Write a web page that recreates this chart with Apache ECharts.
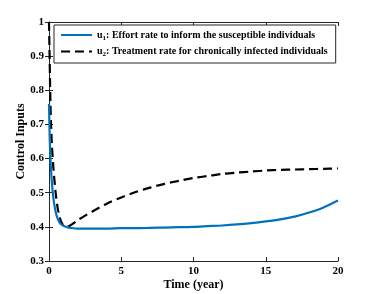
<!DOCTYPE html>
<html><head><meta charset="utf-8">
<script src="https://cdn.jsdelivr.net/npm/echarts@6/dist/echarts.min.js"></script>
<style>html,body{margin:0;padding:0;background:#fff}#c{width:374px;height:294px}</style>
</head><body><div id="c"></div>
<script>
const u1Time = [0, 0.05, 0.1, 0.2, 0.3, 0.4, 0.5, 0.6, 0.7, 0.8, 1.0, 1.25, 1.5, 2, 3, 4, 5, 6, 7, 8, 9, 10, 11, 12, 13, 14, 15, 16, 17, 18, 19, 20];
const u1Values = [0.76, 0.66, 0.6, 0.53, 0.485, 0.457, 0.437, 0.424, 0.415, 0.409, 0.403, 0.399, 0.397, 0.395, 0.395, 0.395, 0.396, 0.396, 0.397, 0.398, 0.399, 0.400, 0.402, 0.404, 0.407, 0.411, 0.416, 0.422, 0.430, 0.442, 0.457, 0.477];
const u2Time = [0, 0.05, 0.1, 0.15, 0.2, 0.3, 0.4, 0.5, 0.6, 0.7, 0.8, 0.9, 1.0, 1.2, 1.5, 2, 2.5, 3, 4, 5, 6, 7, 8, 9, 10, 11, 12, 13, 14, 15, 16, 17, 18, 19, 20];
const u2Values = [1.0, 0.88, 0.76, 0.69, 0.64, 0.575, 0.525, 0.485, 0.455, 0.435, 0.42, 0.41, 0.403, 0.399, 0.405, 0.42, 0.433, 0.445, 0.468, 0.486, 0.502, 0.515, 0.526, 0.535, 0.543, 0.549, 0.555, 0.559, 0.562, 0.565, 0.567, 0.568, 0.569, 0.570, 0.571];
const seriesNames = ['u1', 'u2'];
const legendTexts = {
  u1: ['u', '1', ': Effort rate to inform the susceptible individuals'],
  u2: ['u', '2', ': Treatment rate for chronically infected individuals']
};
const xTitle = 'Time (year)';
const yTitle = 'Control Inputs';

const font = 'Liberation Serif';
const axisColor = '#262626';
const chart = echarts.init(document.getElementById('c'));
const baseAxis = {
  axisLine: {show: true, lineStyle: {color: axisColor, width: 1}},
  axisTick: {show: true, inside: true, length: 4, lineStyle: {color: axisColor}},
  splitLine: {show: false}
};
chart.setOption({
  animation: false,
  grid: {left: 49, right: 36, top: 22, bottom: 33, containLabel: false, outerBoundsMode: 'none'},
  legend: {
    orient: 'vertical', left: 54, top: 25,
    backgroundColor: '#fff', borderColor: axisColor, borderWidth: 1,
    padding: [5, 8, 5, 6], itemGap: 5, itemWidth: 31, itemHeight: 12,
    itemStyle: {opacity: 0},
    data: seriesNames,
    formatter: n => '{b|' + legendTexts[n][0] + '}{s|' + legendTexts[n][1] + '}{b|' + legendTexts[n][2] + '}',
    textStyle: {
      fontFamily: font, fontWeight: 'bold', fontSize: 10, color: '#000',
      rich: {
        b: {fontFamily: font, fontWeight: 'bold', fontSize: 10, color: '#000'},
        s: {fontFamily: font, fontWeight: 'bold', fontSize: 7, color: '#000', padding: [6, 0, 0, 0]}
      }
    }
  },
  xAxis: [
    Object.assign({}, baseAxis, {
      type: 'value', min: 0, max: 20, interval: 5, position: 'bottom',
      name: xTitle, nameLocation: 'middle', nameGap: 18, nameMoveOverlap: false,
      nameTextStyle: {fontFamily: font, fontWeight: 'bold', fontSize: 12, color: '#000'},
      axisLabel: {fontFamily: font, fontWeight: 'bold', fontSize: 11, color: '#000', margin: 5}
    }),
    Object.assign({}, baseAxis, {
      type: 'value', min: 0, max: 20, interval: 5, position: 'top', axisLabel: {show: false}
    })
  ],
  yAxis: [
    Object.assign({}, baseAxis, {
      type: 'value', min: 0.3, max: 1, interval: 0.1, position: 'left',
      name: yTitle, nameLocation: 'middle', nameGap: 22, nameRotate: 90, nameMoveOverlap: false,
      nameTextStyle: {fontFamily: font, fontWeight: 'bold', fontSize: 12, color: '#000'},
      axisLabel: {fontFamily: font, fontWeight: 'bold', fontSize: 11, color: '#000', margin: 5,
        formatter: v => (Math.round(v * 10) / 10).toString()}
    }),
    Object.assign({}, baseAxis, {
      type: 'value', min: 0.3, max: 1, interval: 0.1, position: 'right', axisLabel: {show: false}
    })
  ],
  series: [
    {
      name: 'u1', type: 'line', showSymbol: false, symbol: 'none', smooth: 0.3,
      data: u1Time.map((t, i) => [t, u1Values[i]]),
      lineStyle: {color: '#0072BD', width: 2.2}, itemStyle: {color: '#0072BD'}, z: 3
    },
    {
      name: 'u2', type: 'line', showSymbol: false, symbol: 'none', smooth: 0.3,
      data: u2Time.map((t, i) => [t, u2Values[i]]),
      lineStyle: {color: '#000', width: 2.2, type: [9, 5]}, itemStyle: {color: '#000'}, z: 2
    }
  ]
});
</script></body></html>
